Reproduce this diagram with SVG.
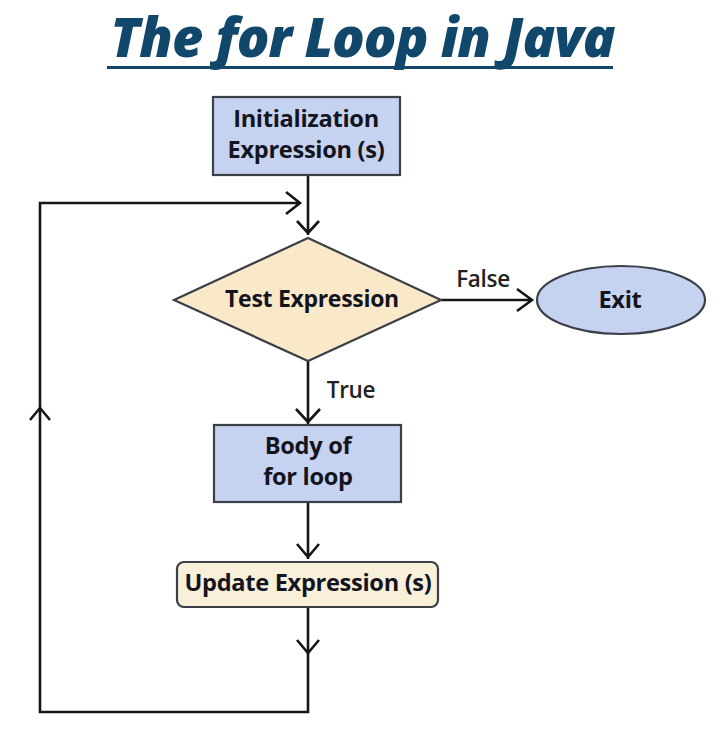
<svg xmlns="http://www.w3.org/2000/svg" width="720" height="732" viewBox="0 0 720 732">
<style>
text{font-family:"Open Sans","Liberation Sans",sans-serif;text-anchor:middle;fill:#14141e}
.b{font-weight:700;font-size:23.6px;letter-spacing:-.3px}
.t{font-size:23px}
.l{font-weight:600;font-size:22.5px;letter-spacing:-.3px;fill:#222}
.s{stroke:#3a3f48;stroke-width:2.2}
.blue{fill:#c5d3f1}
.tan{fill:#fae9c9}
.pale{fill:#f9f0da}
#connectors path{fill:none;stroke:#161616;stroke-width:2.6}
</style>
<rect width="720" height="732" fill="#fff"/>
<g id="title">
<text x="362.500" y="57" style="font-size:54px;font-weight:800;font-style:italic;fill:#11476b;letter-spacing:-.9px">The for Loop in Java</text>
<rect x="107" y="66" width="506" height="3" fill="#11476b"/>
</g>
<g id="connectors">
<path d="M308 175V235M297 221L308 233L319 221"/>
<path d="M308 607V712H40V203H299M286 192L300 203L286 214"/>
<path d="M30 420L40 408L50 420"/>
<path d="M441 300H532M517 289L532 300L517 311"/>
<path d="M308 361V424M296 409L308 422L320 409"/>
<path d="M308 502V559M297 544L308 557L319 544"/>
<path d="M297 640L308 653L319 640"/>
</g>
<g id="init"><rect class="s blue" x="213" y="97" width="187" height="78"/><text class="b" x="306" y="127">Initialization</text><text class="b" x="306" y="158">Expression (s)</text></g>
<g id="test"><path class="s tan" d="M174 300L308 238L441 300L308 361Z"/><text class="b t" x="312" y="307">Test Expression</text></g>
<g id="exit"><ellipse class="s blue" cx="621" cy="300" rx="84" ry="34"/><text class="b" x="620" y="308">Exit</text></g>
<g id="body"><rect class="s blue" x="214" y="425" width="187" height="77"/><text class="b" x="308" y="454">Body of</text><text class="b" x="308" y="485">for loop</text></g>
<g id="update"><rect class="s pale" x="177" y="562" width="261" height="45" rx="7"/><text class="b" x="308" y="591">Update Expression (s)</text></g>
<g id="labels"><text class="l" x="483" y="287">False</text><text class="l" x="351" y="398">True</text></g>
</svg>
